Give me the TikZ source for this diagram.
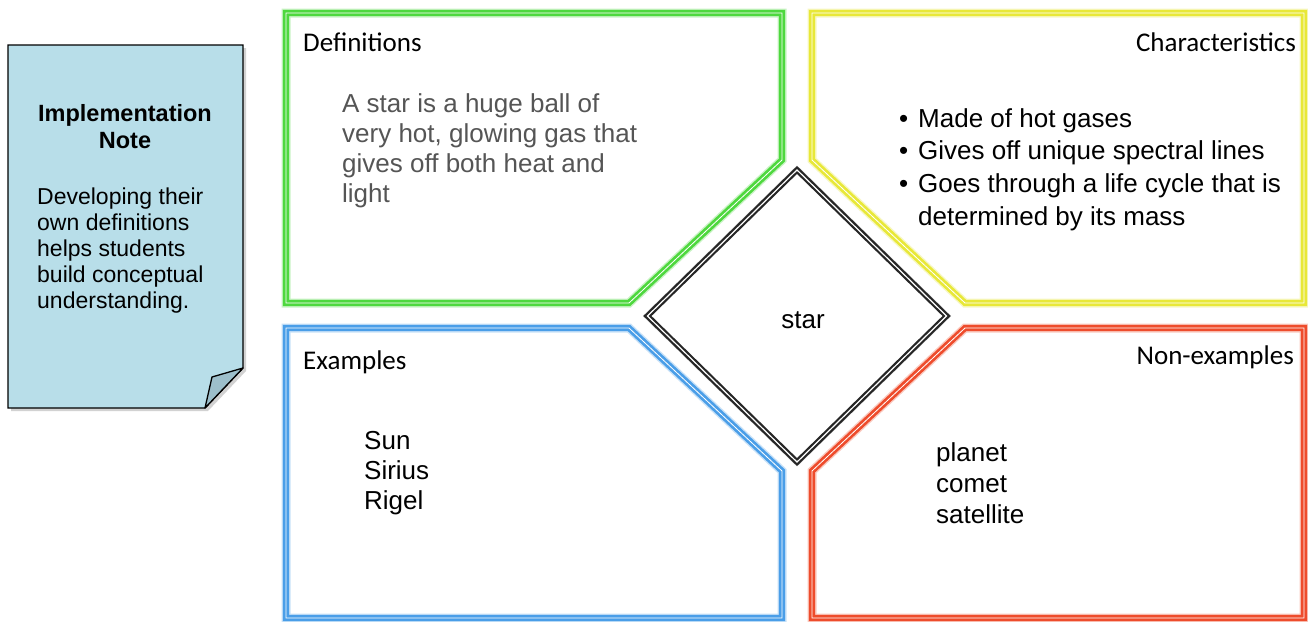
\documentclass[tikz,border=0pt]{standalone}
\usepackage{fontspec}
\setmainfont{Liberation Sans}
\newfontfamily\calib{Carlito}
\usetikzlibrary{shapes.geometric,shadows}
\definecolor{fgreen}{HTML}{4ED83E}
\definecolor{fyellow}{HTML}{E8E838}
\definecolor{fblue}{HTML}{4A9EE8}
\definecolor{fred}{HTML}{EE4C2C}
\definecolor{notefill}{HTML}{B8DEE9}
\definecolor{foldfill}{HTML}{9DBFCB}
\definecolor{bodygray}{HTML}{555555}
\tikzset{
  frameglow/.style={draw=#1!55, line width=9pt, opacity=0.55, line join=miter},
  framebox/.style={draw=#1, line width=2.7pt, double=white, double distance=0.8pt, line join=miter},
  head/.style={font=\calib\fontsize{27}{32}\selectfont, inner sep=0pt, text=black},
  body/.style={font=\fontsize{26}{30}\selectfont, inner sep=0pt, anchor=base west},
  notetxt/.style={font=\fontsize{23}{26}\selectfont, inner sep=0pt},
}
\begin{document}
\begin{tikzpicture}[x=1pt,y=-1pt]
\useasboundingbox (0,0) rectangle (1308,621);
\fill[white] (0,0) rectangle (1308,621);

% ---- implementation note
\path[fill=notefill, draw=black, line width=1.3pt, line join=miter,
      drop shadow={opacity=0.35, shadow xshift=3pt, shadow yshift=-3pt}]
  (8,45) -- (243,45) -- (243,368) -- (205,408) -- (8,408) -- cycle;
\path[fill=foldfill, draw=black, line width=1.3pt, line join=round]
  (243,368) -- (212,377) -- (205,408) -- cycle;
\node[notetxt, font=\bfseries\fontsize{23.5}{27}\selectfont, anchor=base] (ntitle) at (125,121)
  {\vtop{\hbox to 0pt{\hss Implementation\hss}\hbox to 0pt{\hss Note\hss}}};
\node[notetxt, anchor=base west] (nbody) at (37,204)
  {\vtop{\hbox{Developing their}\hbox{own definitions}\hbox{helps students}\hbox{build conceptual}\hbox{understanding.}}};

% ---- frames (glow)
\path[frameglow=fgreen]  (286,13) -- (782,13) -- (782,160) -- (629,303) -- (286,303) -- cycle;
\path[frameglow=fyellow] (812,13) -- (1304,13) -- (1304,303) -- (965,303) -- (812,160) -- cycle;
\path[frameglow=fblue]   (286,328) -- (629,328) -- (782,471) -- (782,618) -- (286,618) -- cycle;
\path[frameglow=fred]    (965,328) -- (1304,328) -- (1304,618) -- (812,618) -- (812,471) -- cycle;
% ---- frames
\path[framebox=fgreen]  (286,13) -- (782,13) -- (782,160) -- (629,303) -- (286,303) -- cycle;
\path[framebox=fyellow] (812,13) -- (1304,13) -- (1304,303) -- (965,303) -- (812,160) -- cycle;
\path[framebox=fblue]   (286,328) -- (629,328) -- (782,471) -- (782,618) -- (286,618) -- cycle;
\path[framebox=fred]    (965,328) -- (1304,328) -- (1304,618) -- (812,618) -- (812,471) -- cycle;

% ---- central diamond
\node[diamond, draw=black!50, line width=8pt, opacity=0.6, minimum width=300pt, minimum height=293pt, inner sep=0pt] (glow) at (797,316) {};
\node[diamond, fill=white, draw=black!85, line width=2.2pt, double=white, double distance=1.2pt,
      minimum width=300pt, minimum height=293pt, inner sep=0pt] (center) at (797,316) {};
\node[body, anchor=base] (star) at (803,328) {star};

% ---- headings
\node[head, anchor=base west] (hdef) at (303,51) {Definitions};
\node[head, anchor=base east] (hchar) at (1296,51) {Characteristics};
\node[head, anchor=base west] (hex) at (303,369) {Examples};
\node[head, anchor=base east] (hnon) at (1294,364) {Non-examples};

% ---- contents
\node[body, text=bodygray] (def) at (342,112.5)
  {\vtop{\hbox{A star is a huge ball of}\hbox{very hot, glowing gas that}\hbox{gives off both heat and}\hbox{light}}};
\node[body, font=\fontsize{26}{32.7}\selectfont] (chars) at (899,127)
  {\vtop{\hbox{\makebox[19pt][l]{•}Made of hot gases}
         \hbox{\makebox[19pt][l]{•}Gives off unique spectral lines}
         \hbox{\makebox[19pt][l]{•}Goes through a life cycle that is}
         \hbox{\hspace{19pt}determined by its mass}}};
\node[body] (ex) at (364,449) {\vtop{\hbox{Sun}\hbox{Sirius}\hbox{Rigel}}};
\node[body, font=\fontsize{26}{31}\selectfont] (non) at (936,461) {\vtop{\hbox{planet}\hbox{comet}\hbox{satellite}}};
\end{tikzpicture}
\end{document}
